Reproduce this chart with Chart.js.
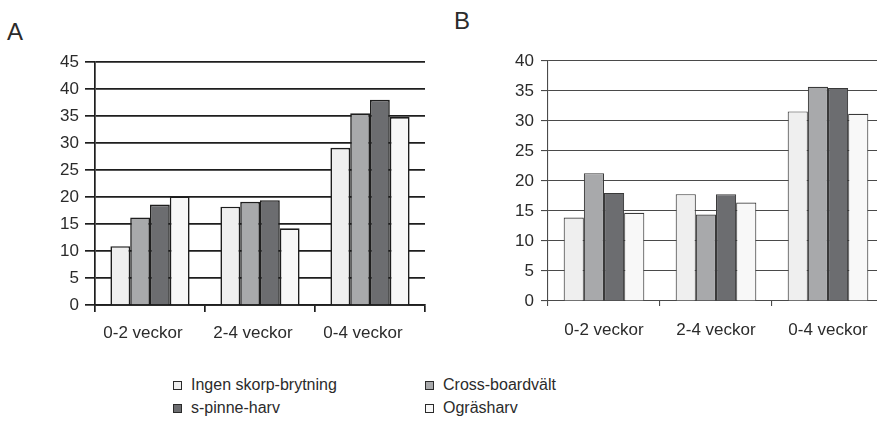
<!DOCTYPE html>
<html>
<head>
<meta charset="utf-8">
<script src="https://cdn.jsdelivr.net/npm/chart.js@4.4.1/dist/chart.umd.min.js"></script>
<style>
  html, body { margin: 0; padding: 0; background: #fff; }
  body { width: 877px; height: 423px; position: relative; overflow: hidden;
         font-family: "Liberation Sans", Arial, sans-serif; color: #2b2b2b; }
  canvas { position: absolute; top: 0; }
  #chartA { left: 0; }
  #chartB { left: 440px; }
  .panel { position: absolute; font-size: 24px; line-height: 1; }
  .legend-item { position: absolute; font-size: 16px; line-height: 18px; white-space: nowrap; }
  .legend-item span.box { display: inline-block; width: 7px; height: 7px; border: 1.5px solid #2a2a2a;
                          vertical-align: 0px; margin-right: 9px; }
</style>
</head>
<body>
<div class="panel" style="left:7px; top:20px;">A</div>
<div class="panel" style="left:454px; top:9px;">B</div>
<canvas id="chartA" width="440" height="345"></canvas>
<canvas id="chartB" width="460" height="345"></canvas>
<div id="legend"></div>
<script>
// Categories and series
const categories = ['0-2 veckor', '2-4 veckor', '0-4 veckor'];
const seriesNames = ['Ingen skorp-brytning', 'Cross-boardvält', 's-pinne-harv', 'Ogräsharv'];
const seriesColors = ['#efefef', '#a8a9ab', '#6c6d70', '#f8f8f8'];

// Panel A values
const aIngen  = [10.9, 18.2, 29.1];
const aCross  = [16.2, 19.1, 35.5];
const aSpinne = [18.6, 19.4, 38.0];
const aOgras  = [20.1, 14.2, 34.8];

// Panel B values
const bIngen  = [13.9, 17.8, 31.6];
const bCross  = [21.3, 14.4, 35.7];
const bSpinne = [18.0, 17.8, 35.5];
const bOgras  = [14.7, 16.4, 31.2];

// Axis ranges
const aMax = 45, bMax = 40, yStep = 5;

const FONT = { family: '"Liberation Sans", Arial, sans-serif', size: 17 };
const TEXT = '#2b2b2b';

function makeDatasets(series, borderColor, borderWidth) {
  return series.map((vals, i) => ({
    label: seriesNames[i],
    data: vals,
    backgroundColor: seriesColors[i],
    borderColor: borderColor,
    borderWidth: borderWidth,
    borderSkipped: 'bottom',
    categoryPercentage: 0.72,
    barPercentage: 1.0
  }));
}

function makeChart(id, series, opts) {
  return new Chart(document.getElementById(id), {
    type: 'bar',
    data: { labels: categories, datasets: makeDatasets(series, opts.barBorder, opts.barBorderWidth) },
    options: {
      responsive: false,
      animation: false,
      events: [],
      layout: { padding: { left: 0, top: opts.top, right: opts.right, bottom: 0 } },
      plugins: { legend: { display: false }, tooltip: { enabled: false }, title: { display: false } },
      scales: {
        x: {
          offset: true,
          grid: { offset: true, drawOnChartArea: false, drawTicks: true, tickLength: opts.xTick,
                  color: opts.lineColor, lineWidth: opts.lineWidth },
          border: { display: true, color: opts.lineColor, width: opts.lineWidth },
          ticks: { font: FONT, color: TEXT, padding: opts.xPad, labelOffset: opts.labelOffset, maxRotation: 0 },
          afterFit: s => { s.height = opts.xHeight; }
        },
        y: {
          min: 0, max: opts.max,
          ticks: { stepSize: yStep, font: FONT, color: TEXT, padding: opts.yPad },
          grid: { drawTicks: true, tickLength: opts.yTick, color: opts.lineColor, lineWidth: opts.lineWidth },
          border: { display: true, color: opts.lineColor, width: opts.lineWidth },
          afterFit: s => { s.width = opts.yWidth; }
        }
      }
    }
  });
}

makeChart('chartA', [aIngen, aCross, aSpinne, aOgras], {
  max: aMax, top: 62, right: 15, yWidth: 95, xHeight: 40,
  lineColor: '#1e1e1e', lineWidth: 1.7, barBorder: '#1e1e1e', barBorderWidth: 1.6,
  xTick: 7, yTick: 10, xPad: 11, yPad: 6, labelOffset: -7
});

makeChart('chartB', [bIngen, bCross, bSpinne, bOgras], {
  max: bMax, top: 61, right: 16, yWidth: 108, xHeight: 44,
  lineColor: '#4a4a4a', lineWidth: 1.1, barBorder: '#3a3a3a', barBorderWidth: 1.1,
  xTick: 5, yTick: 7, xPad: 14, yPad: 7, labelOffset: 0
});

// Shared legend beneath both panels
const legendPos = [[173, 376], [425, 376], [173, 399], [425, 399]];
const legend = document.getElementById('legend');
seriesNames.forEach((name, i) => {
  const item = document.createElement('div');
  item.className = 'legend-item';
  item.style.left = legendPos[i][0] + 'px';
  item.style.top = legendPos[i][1] + 'px';
  const box = document.createElement('span');
  box.className = 'box';
  box.style.background = seriesColors[i];
  item.appendChild(box);
  item.appendChild(document.createTextNode(name));
  legend.appendChild(item);
});
</script>
</body>
</html>
